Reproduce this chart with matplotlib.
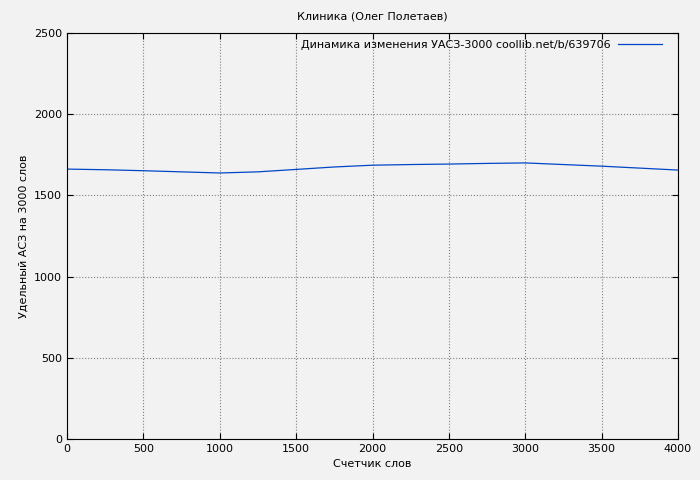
import matplotlib

matplotlib.use("Agg")
import matplotlib.pyplot as plt

# word counter vs specific ACZ per 3000 words
words = [0, 250, 500, 750, 1000, 1250, 1500, 1750, 2000, 2250, 2500, 2750, 3000, 3250, 3500, 3750, 4000]
uacz = [1662, 1658, 1652, 1645, 1638, 1645, 1660, 1675, 1686, 1690, 1693, 1697, 1700, 1690, 1680, 1668, 1656]

plt.rcParams["font.family"] = ["DejaVu Sans"]
plt.rcParams["font.size"] = 8

fig = plt.figure(figsize=(7, 4.8), dpi=100)
fig.patch.set_facecolor("#f2f2f2")
ax = fig.add_axes([67 / 700, 41 / 480, 611 / 700, 406 / 480])
ax.set_facecolor("#f2f2f2")

ax.plot(words, uacz, color="#0047c8", lw=0.9,
        label="Динамика изменения УАСЗ-3000 coollib.net/b/639706")
ax.set_xlim(0, 4000)
ax.set_ylim(0, 2500)
ax.set_xticks(range(0, 4001, 500))
ax.set_yticks(range(0, 2501, 500))
ax.grid(True, color="#808080", ls=":", lw=0.8)
ax.tick_params(direction="in", top=True, right=True, length=4)
for s in ax.spines.values():
    s.set_color("black")

ax.set_title("Клиника (Олег Полетаев)", fontsize=8, pad=10)
ax.set_xlabel("Счетчик слов", labelpad=4)
ax.set_ylabel("Удельный АСЗ на 3000 слов", labelpad=4)
ax.legend(loc="upper right", frameon=False, markerfirst=False,
          handlelength=4, handletextpad=0.6, borderaxespad=0.2,
          bbox_to_anchor=(0.985, 1.0), fontsize=8)

fig.savefig("out.png", facecolor=fig.get_facecolor())
